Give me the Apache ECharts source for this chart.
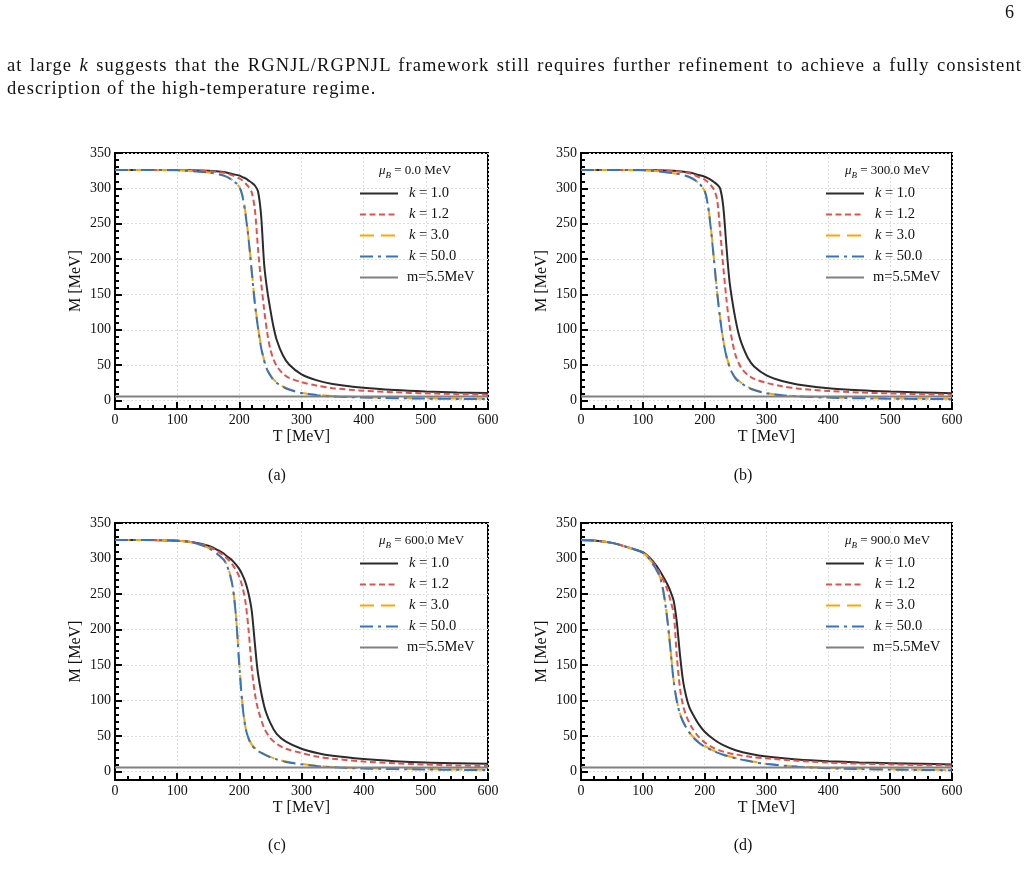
<!DOCTYPE html>
<html>
<head>
<meta charset="utf-8">
<script src="https://cdn.jsdelivr.net/npm/echarts@6/dist/echarts.min.js"></script>
<style>
html,body{margin:0;padding:0;background:#fff;}
#wrap{position:relative;width:1028px;height:886px;overflow:hidden;}
#chart{position:absolute;left:0;top:0;width:1028px;height:886px;}
.txt{position:absolute;font-family:"Liberation Serif",serif;color:#111;font-size:18.5px;letter-spacing:1.1px;white-space:nowrap;}
.just{text-align:justify;text-align-last:justify;white-space:normal;letter-spacing:1.1px;}
.pg{position:absolute;font-family:"Liberation Serif",serif;color:#111;font-size:18px;}
.cap{position:absolute;font-family:"Liberation Serif",serif;color:#111;font-size:16px;transform:translateX(-50%);}
</style>
</head>
<body>
<div id="wrap">
<div id="chart"></div>
<div class="pg" style="left:1005px;top:2px;">6</div>
<div class="txt just" style="left:7px;top:55px;width:1015px;">at large <i>k</i> suggests that the RGNJL/RGPNJL framework still requires further refinement to achieve a fully consistent</div>
<div class="txt" style="left:7px;top:78px;">description of the high-temperature regime.</div>
<div class="cap" style="left:277px;top:466px;">(a)</div>
<div class="cap" style="left:743px;top:466px;">(b)</div>
<div class="cap" style="left:277px;top:836px;">(c)</div>
<div class="cap" style="left:743px;top:836px;">(d)</div>
</div>
<script>
// ---------------- data ----------------
const SERIES_NAMES = ['k = 1.0', 'k = 1.2', 'k = 3.0', 'k = 50.0', 'm=5.5MeV'];
const MU_LABELS = ['0.0', '300.0', '600.0', '900.0'];
const X_TICKS = [0, 100, 200, 300, 400, 500, 600];
const Y_TICKS = [0, 50, 100, 150, 200, 250, 300, 350];
const Y_MINOR_TICKS = [10,20,30,40,60,70,80,90,110,120,130,140,160,170,180,190,210,220,230,240,260,270,280,290,310,320,330,340];
const CURRENT_MASS = 5.5;

// panel (a) mu_B = 0
const T_A = [0,50,100,150,175,190,200,205,210,215,220,225,230,235,240,245,250,255,260,270,280,300,325,350,400,450,500,550,600];
const A_K1  = [326,326,326,325,323,320,318,316,314,311,308,304,296,262,192,155,128,104,86,64,51,37,28.5,23.5,18,14.8,12.8,11.5,10.5];
const A_K12 = [326,326,326,324.5,322,318,314,311,307,302,294,270,215,168,128,95,72,58,49,38,32,26,21,17.5,13.8,11.6,10.1,9,8.3];
const A_K3  = [326,326,325.5,322.5,318,311,302,290,265,228,183,138,104,76,57,44,36,30,26,20,16,11,8,6.3,4.6,3.7,3.1,2.7,2.4];
const A_K50 = [326,326,325.5,322.5,318,311,302,289,263,227,182,137,103,75,56,43,35,29,25,19.5,15.5,10.5,7.6,5.9,4.2,3.3,2.7,2.3,2.0];

// panel (b) mu_B = 300
const T_B = [0,50,100,150,175,190,200,205,210,215,220,225,230,235,240,245,250,255,260,270,280,300,325,350,400,450,500,550,600];
const B_K1  = [326,326,326,324.8,322.5,319,316.5,314.5,312,309,305.5,300,275,220,170,139,114,94,80,60,48,35.5,27.5,22.8,17.5,14.5,12.6,11.4,10.4];
const B_K12 = [326,326,326,324.3,321.5,316,312.5,309,304.5,298,285,240,190,145,108,82,64,53,45,36,30.5,25,20.3,17,13.5,11.4,10,9,8.3];
const B_K3  = [326,326,325.5,321.5,316,308,296,278,245,200,155,117,86,64,49,39,32,28,24.5,19,15.2,10.6,7.7,6.1,4.5,3.6,3.0,2.7,2.4];
const B_K50 = [326,326,325.5,321.5,316,308,296,277,243,199,154,116,85,63,48,38,31,27,24,18.5,14.8,10.2,7.4,5.8,4.1,3.2,2.6,2.2,1.9];

// panel (c) mu_B = 600
const T_C = [0,50,100,125,150,165,175,180,185,190,195,200,205,210,215,220,225,230,240,250,260,275,300,325,350,400,450,500,550,600];
const C_K1  = [326,326,325,323,318,312,307,303,300,296,291,285,277,266,250,226,180,138,92,68,53,42,32,26,22,17.5,14.5,12.5,11.5,10.8];
const C_K12 = [326,326,325,323,317,310,304,300,296,290,283,274,260,238,198,145,110,88,61,47,39,32,26,21,18,14,11.5,9.8,8.5,7.7];
const C_K3  = [326,326,325,322.5,315,306,298,291,278,257,215,150,95,62,47,38,33,29.5,24.5,20.5,17.5,14,10.5,8,6.3,4.6,3.8,3.2,2.8,2.5];
const C_K50 = [326,326,325,322.5,315,306,298,290,277,256,214,149,94,61,46,37,32,29,24,20,17,13.5,10,7.6,5.9,4.2,3.4,2.8,2.3,2.0];

// panel (d) mu_B = 900
const T_D = [0,25,50,75,100,110,120,125,130,135,140,145,150,155,160,165,170,175,180,190,200,215,230,250,275,300,350,400,450,500,550,600];
const D_K1  = [326,325,322,316,309,302,292,286,279,271,263,253,240,210,165,128,106,91,82,67,56,45,37,30,24.5,21,17,14.5,12.8,11.7,10.8,10];
const D_K12 = [326,325,322,316,308.5,301,290,283,275,266,255,240,222,162,118,93,79,69,61,49,41,33,28,24,20.5,18.5,15,12.5,11,10,9,8.5];
const D_K3  = [326,325,322,316,308,300,287,279,268,245,212,170,127,100,82,71,63,56,50,42,36,29,24,19,14.5,11,7,5,3.8,3,2.5,2.1];
const D_K50 = [326,325,322,316,308,300,287,279,267,244,211,169,126,99,81,70,62,55,49,41,35,28.5,23.5,18.5,14,10.5,6.6,4.6,3.4,2.6,2.1,1.7];

const PANELS = [
  {T: T_A, ys: [A_K1, A_K12, A_K3, A_K50]},
  {T: T_B, ys: [B_K1, B_K12, B_K3, B_K50]},
  {T: T_C, ys: [C_K1, C_K12, C_K3, C_K50]},
  {T: T_D, ys: [D_K1, D_K12, D_K3, D_K50]}
];

// ---------------- styling / layout ----------------
const FONT = '"Liberation Serif", "Times New Roman", serif';
const COLORS = ['#2b2b2b', '#e5524c', '#ffa500', '#3573c4', '#808080'];
const DASHES = ['solid', [6, 3.5], [14, 7], [13, 5, 3, 5], 'solid'];
const BOXES = [
  {left: 115, top: 153, width: 373, height: 256},
  {left: 581, top: 153, width: 371, height: 256},
  {left: 115, top: 523, width: 373, height: 257},
  {left: 581, top: 523, width: 371, height: 257}
];
const YMIN = -12, YMAX = 350;

const grids = [], xAxes = [], yAxes = [], series = [], legends = [], graphics = [];
PANELS.forEach((p, i) => {
  const b = BOXES[i];
  grids.push({left: b.left, top: b.top, width: b.width, height: b.height, show: true,
    borderColor: '#000', borderWidth: 2, backgroundColor: 'transparent'});
  xAxes.push({
    type: 'value', gridIndex: i, min: 0, max: 600, interval: 100, position: 'bottom',
    name: 'T [MeV]', nameLocation: 'middle', nameGap: 20,
    nameTextStyle: {fontFamily: FONT, fontSize: 16, color: '#111'},
    axisLine: {show: true, onZero: false, lineStyle: {color: '#000', width: 2}},
    axisTick: {show: true, inside: true, length: 7, lineStyle: {color: '#000', width: 2}},
    minorTick: {show: true, splitNumber: 5, length: 4, lineStyle: {color: '#000', width: 2}},
    axisLabel: {fontFamily: FONT, fontSize: 14, color: '#111', margin: 4,
      customValues: X_TICKS},
    splitLine: {show: true, lineStyle: {color: '#dedede', width: 1, type: [2, 2]}},
    minorSplitLine: {show: false}
  });
  yAxes.push({
    type: 'value', gridIndex: i, min: YMIN, max: YMAX, splitNumber: 7, position: 'left',
    name: 'M [MeV]', nameLocation: 'middle', nameGap: 31,
    nameTextStyle: {fontFamily: FONT, fontSize: 16, color: '#111'},
    axisLine: {show: true, onZero: false, lineStyle: {color: '#000', width: 2}},
    axisTick: {show: true, inside: true, length: 7, lineStyle: {color: '#000', width: 2},
      customValues: Y_TICKS},
    axisLabel: {fontFamily: FONT, fontSize: 14, color: '#111', margin: 4,
      customValues: Y_TICKS},
    splitLine: {show: true, lineStyle: {color: '#dedede', width: 1, type: [2, 2]}}
  });
  yAxes.push({
    type: 'value', gridIndex: i, min: YMIN, max: YMAX, position: 'left', offset: 0,
    axisLine: {show: false},
    axisTick: {show: true, inside: true, length: 4, lineStyle: {color: '#000', width: 2},
      customValues: Y_MINOR_TICKS},
    axisLabel: {show: false},
    splitLine: {show: false}
  });
  p.ys.forEach((ys, s) => {
    series.push({
      name: SERIES_NAMES[s], type: 'line', xAxisIndex: i, yAxisIndex: 2 * i,
      data: p.T.map((t, k) => [t, ys[k]]),
      showSymbol: false, symbol: 'none', smooth: 0.3,
      lineStyle: {color: COLORS[s], width: 2, type: DASHES[s]},
      itemStyle: {color: COLORS[s]},
      z: 2 + s
    });
  });
  series.push({
    name: SERIES_NAMES[4], type: 'line', xAxisIndex: i, yAxisIndex: 2 * i,
    data: [[0, CURRENT_MASS], [600, CURRENT_MASS]],
    showSymbol: false, symbol: 'none',
    lineStyle: {color: COLORS[4], width: 2, type: 'solid'},
    itemStyle: {color: COLORS[4]}, z: 7
  });
  legends.push({
    data: SERIES_NAMES.slice(), orient: 'vertical', padding: 0,
    left: b.left + 244, top: b.top + 33,
    itemWidth: 38, itemHeight: 14, itemGap: 6, selectedMode: false,
    itemStyle: {opacity: 0, borderWidth: 0},
    textStyle: {fontFamily: FONT, fontSize: 14.5, color: '#111',
      rich: {
        i: {fontFamily: FONT, fontSize: 14.5, fontStyle: 'italic', color: '#111', padding: [0, 0, 0, 6], lineHeight: 15},
        t: {fontFamily: FONT, fontSize: 14.5, color: '#111', lineHeight: 15},
        p: {fontFamily: FONT, fontSize: 14.5, color: '#111', padding: [0, 0, 0, 4], lineHeight: 15}
      }},
    formatter: function (name) {
      if (name.charAt(0) === 'k') return '{i|k}{t|' + name.slice(1) + '}';
      return '{p|' + name + '}';
    }
  });
  graphics.push({
    type: 'text', left: b.left + 264, top: b.top + 11, z: 100,
    style: {
      text: '{mu|μ}{sub|B}{n| = ' + MU_LABELS[i] + ' MeV}',
      fill: '#111',
      rich: {
        mu: {fontFamily: FONT, fontSize: 13, fontStyle: 'italic', fill: '#111', verticalAlign: 'bottom', padding: [0, 0, 3, 0]},
        sub: {fontFamily: FONT, fontSize: 9, fontStyle: 'italic', fill: '#111', verticalAlign: 'bottom'},
        n: {fontFamily: FONT, fontSize: 13, fill: '#111', verticalAlign: 'bottom', padding: [0, 0, 3, 0]}
      }
    }
  });
});

const chart = echarts.init(document.getElementById('chart'), null, {renderer: 'canvas'});
chart.setOption({
  animation: false,
  backgroundColor: '#fff',
  grid: grids, xAxis: xAxes, yAxis: yAxes, series: series,
  legend: legends, graphic: graphics
});
</script>
</body>
</html>
